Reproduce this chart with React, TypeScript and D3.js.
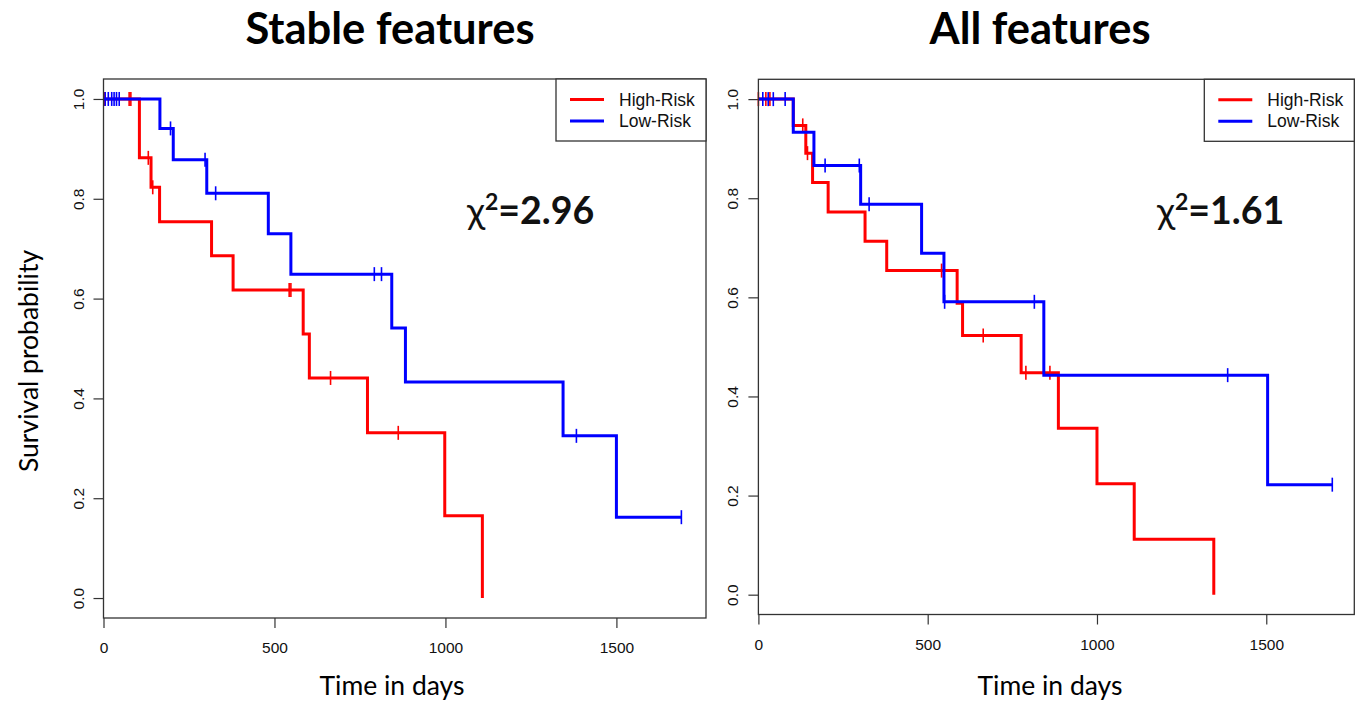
import * as d3 from 'd3';
import { useEffect, useRef } from 'react';

// Stable features: High-Risk (red)
const stableHighTimes = [105, 139, 164, 316, 379, 584, 602, 772, 998, 1108];
const stableHighSurv = [0.882, 0.823, 0.754, 0.686, 0.617, 0.529, 0.441, 0.331, 0.165, 0];
const stableHighCensor = [2, 75, 80, 131, 144, 543, 548, 664, 862];
// Stable features: Low-Risk (blue)
const stableLowTimes = [165, 204, 302, 482, 548, 843, 883, 1344, 1500];
const stableLowSurv = [0.941, 0.878, 0.811, 0.73, 0.649, 0.541, 0.433, 0.325, 0.162];
const stableLowCensor = [5, 14, 24, 31, 38, 46, 196, 297, 328, 792, 813, 1383, 1690];

// All features: High-Risk (red)
const allHighTimes = [103, 140, 160, 206, 315, 379, 587, 603, 776, 886, 1000, 1110, 1345];
const allHighSurv = [0.947, 0.891, 0.832, 0.772, 0.713, 0.654, 0.588, 0.523, 0.448, 0.336, 0.224, 0.112, 0];
const allHighCensor = [0, 22, 34, 131, 145, 541, 664, 790, 861];
// All features: Low-Risk (blue)
const allLowTimes = [103, 164, 302, 482, 548, 843, 1504];
const allLowSurv = [0.933, 0.866, 0.788, 0.689, 0.591, 0.443, 0.222];
const allLowCensor = [13, 29, 44, 79, 197, 298, 327, 550, 815, 1386, 1695];

const xTicks = [0, 500, 1000, 1500];
const yTicks = [0, 0.2, 0.4, 0.6, 0.8, 1.0];
const groupLabels = ['High-Risk', 'Low-Risk'];
const groupColors = ['#ff0000', '#0000ff'];

interface Curve {
    times: number[];
    surv: number[];
    censor: number[];
}

interface PanelProps {
    title: string;
    chi: string;
    curves: Curve[];
    box: { left: number; right: number; top: number; bottom: number };
    xMax: number;
    titleX: number;
    xTitleX: number;
    chiX: number;
    showYTitle: boolean;
}

const survAt = (c: Curve, t: number) => {
    let s = 1;
    c.times.forEach((ti, i) => {
        if (ti <= t) s = c.surv[i];
    });
    return s;
};

function drawPanel(root: d3.Selection<SVGGElement, unknown, null, undefined>, p: PanelProps) {
    const { left, right, top, bottom } = p.box;
    const x = d3.scaleLinear().domain([0, p.xMax]).range([left, right]);
    const y = d3.scaleLinear().domain([-0.04, 1.04]).range([bottom, top]);
    const g = root.append('g');

    // Title
    g.append('text')
        .attr('x', p.titleX)
        .attr('y', 44)
        .attr('text-anchor', 'middle')
        .attr('font-family', 'Lato')
        .attr('font-weight', 700)
        .attr('font-size', 43.5)
        .text(p.title);

    // Axes
    const yAxis = d3.axisLeft(y).tickValues(yTicks).tickSize(10).tickFormat(d3.format('.1f'));
    const yg = g.append('g').attr('transform', `translate(${left},0)`).call(yAxis);
    yg.select('.domain').remove();
    yg.selectAll('line').attr('stroke', '#333').attr('stroke-width', 1.2);
    yg.selectAll('text')
        .attr('x', 0)
        .attr('dy', 0)
        .attr('text-anchor', 'middle')
        .attr('transform', 'translate(-20,0) rotate(-90)')
        .attr('font-family', 'Liberation Sans')
        .attr('font-size', 15.5)
        .attr('fill', '#111');

    const xAxis = d3.axisBottom(x).tickValues(xTicks).tickSize(10).tickPadding(14).tickFormat(d3.format('d'));
    const xg = g.append('g').attr('transform', `translate(0,${bottom})`).call(xAxis);
    xg.select('.domain').remove();
    xg.selectAll('line').attr('stroke', '#333').attr('stroke-width', 1.2);
    xg.selectAll('text')
        .attr('font-family', 'Liberation Sans')
        .attr('font-size', 15.5)
        .attr('fill', '#111');

    g.append('text')
        .attr('x', p.xTitleX)
        .attr('y', 695)
        .attr('text-anchor', 'middle')
        .attr('font-family', 'Lato')
        .attr('font-size', 26.5)
        .text('Time in days');

    if (p.showYTitle) {
        g.append('text')
            .attr('transform', `translate(38,361) rotate(-90)`)
            .attr('text-anchor', 'middle')
            .attr('font-family', 'Lato')
            .attr('font-size', 26.5)
            .text('Survival probability');
    }

    // Curves
    const line = d3
        .line<[number, number]>()
        .x((d) => x(d[0]))
        .y((d) => y(d[1]))
        .curve(d3.curveStepAfter);

    p.curves.forEach((c, i) => {
        const pts: [number, number][] = [[0, 1]];
        c.times.forEach((t, k) => pts.push([t, c.surv[k]]));
        const end = Math.max(d3.max(c.times) || 0, d3.max(c.censor) || 0);
        pts.push([end, c.surv[c.surv.length - 1]]);
        g.append('path')
            .attr('d', line(pts))
            .attr('fill', 'none')
            .attr('stroke', groupColors[i])
            .attr('stroke-width', 3);
        g.selectAll(`.cens${i}`)
            .data(c.censor)
            .enter()
            .append('line')
            .attr('x1', (t) => x(t))
            .attr('x2', (t) => x(t))
            .attr('y1', (t) => y(survAt(c, t)) - 7)
            .attr('y2', (t) => y(survAt(c, t)) + 7)
            .attr('stroke', groupColors[i])
            .attr('stroke-width', 1.6);
    });

    // Box
    g.append('rect')
        .attr('x', left)
        .attr('y', top)
        .attr('width', right - left)
        .attr('height', bottom - top)
        .attr('fill', 'none')
        .attr('stroke', '#333')
        .attr('stroke-width', 1.3);

    // Legend
    const lw = 150;
    const lg = g.append('g').attr('transform', `translate(${right - lw},${top})`);
    lg.append('rect')
        .attr('width', lw)
        .attr('height', 62)
        .attr('fill', 'white')
        .attr('stroke', '#333')
        .attr('stroke-width', 1.3);
    groupLabels.forEach((lab, i) => {
        const yy = 20.5 + i * 21.4;
        lg.append('line')
            .attr('x1', 14)
            .attr('x2', 48)
            .attr('y1', yy)
            .attr('y2', yy)
            .attr('stroke', groupColors[i])
            .attr('stroke-width', 3);
        lg.append('text')
            .attr('x', 63)
            .attr('y', yy + 6)
            .attr('font-family', 'Liberation Sans')
            .attr('font-size', 17.5)
            .attr('fill', '#111')
            .text(lab);
    });

    // Chi-square annotation
    const ct = g
        .append('text')
        .attr('x', p.chiX)
        .attr('y', 224)
        .attr('font-family', 'Lato')
        .attr('font-size', 37.5)
        .attr('fill', '#111');
    ct.append('tspan').attr('font-weight', 400).text('χ');
    ct.append('tspan').attr('font-weight', 700).attr('font-size', 23).attr('dy', -14).text('2');
    ct.append('tspan').attr('font-weight', 700).attr('dy', 14).text(`=${p.chi}`);
}

const panels: PanelProps[] = [
    {
        title: 'Stable features',
        chi: '2.96',
        curves: [
            { times: stableHighTimes, surv: stableHighSurv, censor: stableHighCensor },
            { times: stableLowTimes, surv: stableLowSurv, censor: stableLowCensor },
        ],
        box: { left: 103.5, right: 706, top: 79, bottom: 618 },
        xMax: 1762,
        titleX: 390,
        xTitleX: 392,
        chiX: 467,
        showYTitle: true,
    },
    {
        title: 'All features',
        chi: '1.61',
        curves: [
            { times: allHighTimes, surv: allHighSurv, censor: allHighCensor },
            { times: allLowTimes, surv: allLowSurv, censor: allLowCensor },
        ],
        box: { left: 758.4, right: 1354.3, top: 79.3, bottom: 614.5 },
        xMax: 1760,
        titleX: 1040,
        xTitleX: 1050,
        chiX: 1157,
        showYTitle: false,
    },
];

const App: React.FC = () => {
    const svgRef = useRef<SVGSVGElement>(null);

    useEffect(() => {
        const svg = d3.select(svgRef.current);
        svg.selectAll('*').remove();
        svg.append('rect').attr('width', 1362).attr('height', 704).attr('fill', 'white');
        const root = svg.append('g') as unknown as d3.Selection<SVGGElement, unknown, null, undefined>;
        panels.forEach((p) => drawPanel(root, p));
    }, []);

    return (
        <div style={{ position: 'absolute', left: 0, top: 0 }}>
            <svg ref={svgRef} width={1362} height={704} style={{ display: 'block' }}></svg>
        </div>
    );
};

export default App;
